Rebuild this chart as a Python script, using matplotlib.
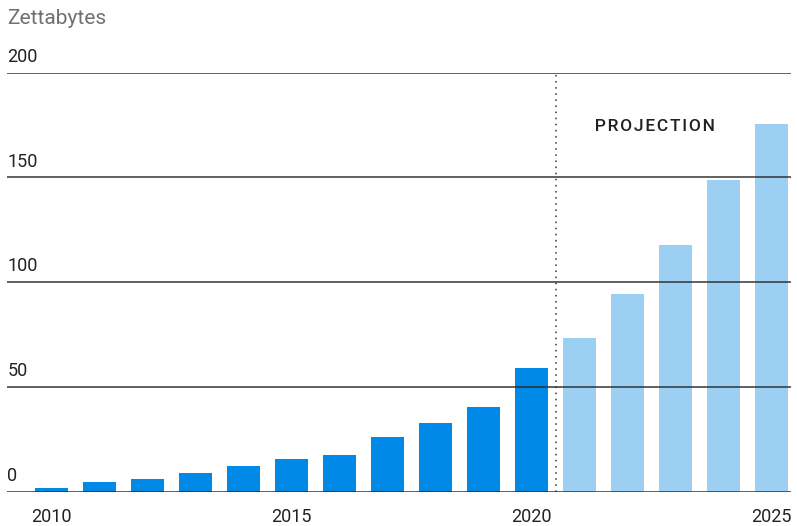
import matplotlib
matplotlib.use("Agg")
import matplotlib.pyplot as plt

years = [2010, 2011, 2012, 2013, 2014, 2015, 2016, 2017, 2018, 2019, 2020,
         2021, 2022, 2023, 2024, 2025]
values = [2, 4.6, 6.1, 8.9, 12.3, 15.6, 17.5, 26.1, 32.8, 40.4, 59,
          73.4, 94.4, 117.8, 149, 175.5]
projected = [False] * 11 + [True] * 5
yticks = [0, 50, 100, 150, 200]
xticks = [2010, 2015, 2020, 2025]

plt.rcParams['font.family'] = ['Roboto', 'DejaVu Sans']

W, H = 797, 526
fig = plt.figure(figsize=(W / 100, H / 100), dpi=100)
left_px, right_px = 7.3, 790.7
y0_px, y200_px = 491.7, 72.7
ax = fig.add_axes([left_px / W, (H - y0_px) / H,
                   (right_px - left_px) / W, (y0_px - y200_px) / H])
ax.set_xlim(2010 - 44.2 / 48, 2025 + 19.2 / 48)
ax.set_ylim(0, 200)
ax.axis('off')

dark = '#0089E6'
light = '#9BD0F3'
colors = [light if p else dark for p in projected]
ax.bar(years, values, width=0.6875, color=colors, zorder=2)

for t in yticks:
    ax.axhline(t, color='#2a2a2a', lw=1.3, alpha=0.8, zorder=3)
    ax.text(0, t + 3.2, str(t), transform=ax.get_yaxis_transform(),
            ha='left', va='bottom', fontsize=13, color='#222222')

for t in xticks:
    ax.text(t, -12.3, str(t), ha='center', va='center', fontsize=13,
            color='#222222', clip_on=False)

ax.vlines(2020.5, 0, 200, colors='#333333', linestyles=(0, (1, 3)),
          lw=1.1, zorder=3)

ax.text(2022.55, 174.5, '\u200aP\u200aR\u200aO\u200aJ\u200aE\u200aC\u200aT\u200aI\u200aO\u200aN',
        ha='center', va='center', fontsize=12.5, fontweight='medium',
        color='#222222', family=['Roboto', 'DejaVu Sans'])

fig.text(7.3 / W, 1 - 18 / H, 'Zettabytes', ha='left', va='center',
         fontsize=15, color='#707070')

fig.savefig('out.png', dpi=100)
